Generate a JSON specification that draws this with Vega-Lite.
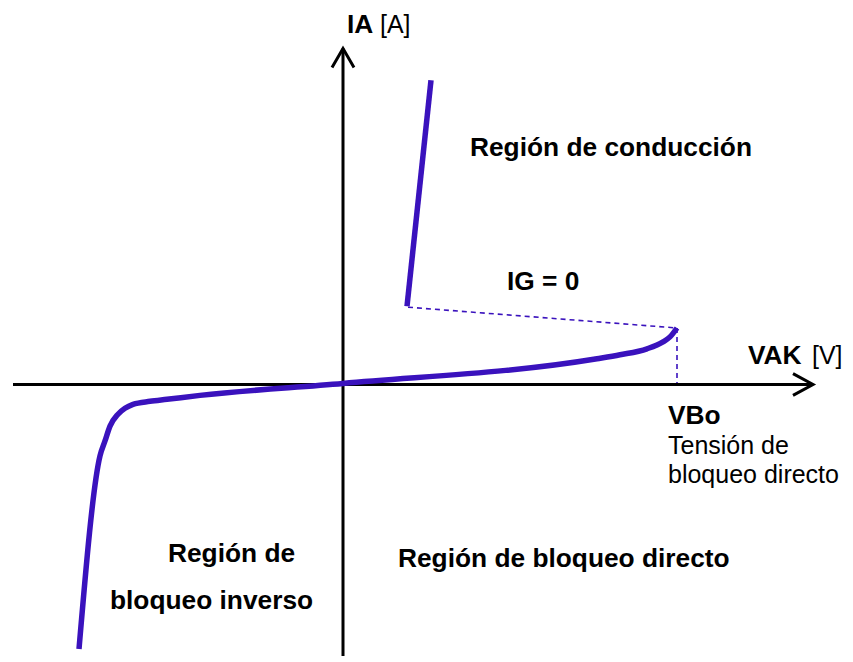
{
  "$schema": "https://vega.github.io/schema/vega-lite/v6.json",
  "width": 853,
  "height": 662,
  "autosize": {"type": "fit", "contains": "padding"},
  "padding": 0,
  "background": "white",
  "config": {"view": {"stroke": null}, "text": {"font": "Liberation Sans", "fontSize": 25, "color": "black"}},
  "datasets": {
    "axes": [
      {"s": "h", "i": 0, "v": -330, "a": 0},
      {"s": "h", "i": 1, "v": 470, "a": 0},
      {"s": "ha", "i": 0, "v": 450, "a": 11},
      {"s": "ha", "i": 1, "v": 470, "a": 0},
      {"s": "ha", "i": 2, "v": 450, "a": -11},
      {"s": "v", "i": 0, "v": 0, "a": -274},
      {"s": "v", "i": 1, "v": 0, "a": 339},
      {"s": "va", "i": 0, "v": -11, "a": 320},
      {"s": "va", "i": 1, "v": 0, "a": 339},
      {"s": "va", "i": 2, "v": 11, "a": 320}
    ],
    "curve": [
      {"s": "main", "i": 0, "v": -264, "a": -267},
      {"s": "main", "i": 1, "v": -243, "a": -72},
      {"s": "main", "i": 2, "v": -238, "a": -57},
      {"s": "main", "i": 3, "v": -233, "a": -42},
      {"s": "main", "i": 4, "v": -225, "a": -30},
      {"s": "main", "i": 5, "v": -218, "a": -24},
      {"s": "main", "i": 6, "v": -210, "a": -20},
      {"s": "main", "i": 7, "v": -193, "a": -17},
      {"s": "main", "i": 8, "v": -176, "a": -15},
      {"s": "main", "i": 9, "v": -143, "a": -11},
      {"s": "main", "i": 10, "v": 0, "a": 1},
      {"s": "main", "i": 11, "v": 254, "a": 26},
      {"s": "main", "i": 12, "v": 277, "a": 30},
      {"s": "main", "i": 13, "v": 304, "a": 36},
      {"s": "main", "i": 14, "v": 320, "a": 43},
      {"s": "main", "i": 15, "v": 327, "a": 48},
      {"s": "main", "i": 16, "v": 334, "a": 57},
      {"s": "cond", "i": 0, "v": 64, "a": 79},
      {"s": "cond", "i": 1, "v": 88, "a": 307}
    ],
    "dashed": [
      {"s": "d1", "i": 0, "v": 65, "a": 78},
      {"s": "d1", "i": 1, "v": 334, "a": 57},
      {"s": "d2", "i": 0, "v": 334, "a": 57},
      {"s": "d2", "i": 1, "v": 334, "a": 0}
    ],
    "boldLeft": [
      {"t": "Región de conducción", "v": 127, "a": 231},
      {"t": "IG = 0", "v": 164, "a": 95},
      {"t": "VAK", "v": 405, "a": 21},
      {"t": "IA", "v": 4, "a": 355},
      {"t": "VBo", "v": 325, "a": -40},
      {"t": "Región de bloqueo directo", "v": 55, "a": -184},
      {"t": "Región de", "v": -175, "a": -179},
      {"t": "bloqueo inverso", "v": -233, "a": -227}
    ],
    "regularLeft": [
      {"t": "[V]", "v": 469, "a": 21},
      {"t": "[A]", "v": 37, "a": 355},
      {"t": "Tensión de", "v": 325, "a": -70},
      {"t": "bloqueo directo", "v": 325, "a": -99}
    ]
  },
  "encoding": {
    "x": {"field": "v", "type": "quantitative", "scale": {"domain": [-343, 510], "nice": false, "zero": false}, "axis": null},
    "y": {"field": "a", "type": "quantitative", "scale": {"domain": [-274, 388], "nice": false, "zero": false}, "axis": null}
  },
  "layer": [
    {
      "data": {"name": "dashed"},
      "mark": {"type": "line", "color": "#3a12bd", "strokeWidth": 1.6, "strokeDash": [5, 4]},
      "encoding": {"detail": {"field": "s"}, "order": {"field": "i"}}
    },
    {
      "data": {"name": "axes"},
      "mark": {"type": "line", "color": "black", "strokeWidth": 3, "strokeJoin": "miter", "strokeCap": "butt"},
      "encoding": {"detail": {"field": "s"}, "order": {"field": "i"}}
    },
    {
      "data": {"name": "curve"},
      "mark": {"type": "line", "color": "#3a12bd", "strokeWidth": 5.5, "strokeJoin": "round", "strokeCap": "butt", "interpolate": "monotone"},
      "encoding": {"detail": {"field": "s"}, "order": {"field": "i"}}
    },
    {
      "data": {"name": "boldLeft"},
      "mark": {"type": "text", "align": "left", "baseline": "alphabetic", "fontWeight": "bold", "fontSize": 26.3},
      "encoding": {"text": {"field": "t"}}
    },
    {
      "data": {"name": "regularLeft"},
      "mark": {"type": "text", "align": "left", "baseline": "alphabetic", "fontWeight": "normal"},
      "encoding": {"text": {"field": "t"}}
    }
  ]
}
